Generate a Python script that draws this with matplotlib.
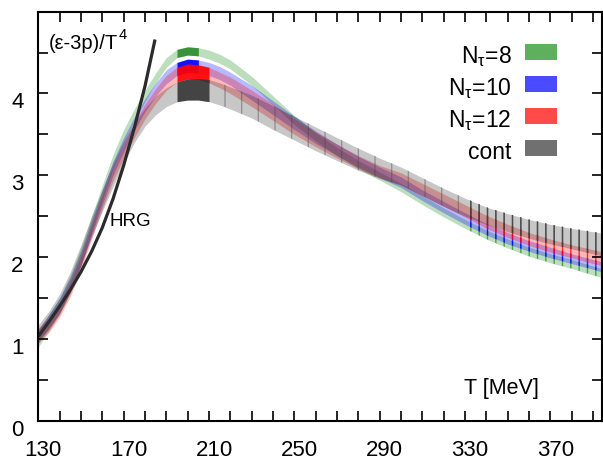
import numpy as np
import matplotlib
matplotlib.use('Agg')
import matplotlib.pyplot as plt
from matplotlib.patches import Rectangle
from matplotlib.transforms import ScaledTranslation

plt.rcParams['font.family'] = ['Liberation Sans', 'DejaVu Sans']
plt.rcParams['mathtext.fontset'] = 'custom'
plt.rcParams['mathtext.rm'] = 'Liberation Sans'
plt.rcParams['mathtext.it'] = 'Liberation Sans'
plt.rcParams['mathtext.bf'] = 'Liberation Sans:bold'
plt.rcParams['hatch.linewidth'] = 1.0

# temperature grid of the bands [MeV]
T = [130, 135, 140, 145, 150, 155, 160, 165, 170, 175, 180, 185, 190, 195, 200, 205, 210, 215, 220,
     230, 240, 250, 260, 270, 280, 290, 300, 310, 320, 330, 340, 350, 360, 370, 380, 390, 395]

# (e-3p)/T^4 bands, lower / upper edges
nt8_lo = [0.90, 1.10, 1.30, 1.56, 1.90, 2.30, 2.70, 3.08, 3.40, 3.66, 3.90, 4.13, 4.32, 4.44, 4.47,
          4.46, 4.42, 4.37, 4.30, 4.10, 3.86, 3.62, 3.42, 3.24, 3.08, 2.94, 2.80, 2.64, 2.49,
          2.35, 2.22, 2.11, 2.01, 1.93, 1.86, 1.78, 1.74]
nt8_hi = [1.10, 1.30, 1.50, 1.78, 2.11, 2.50, 2.88, 3.25, 3.56, 3.81, 4.04, 4.25, 4.44, 4.54, 4.57,
          4.56, 4.53, 4.48, 4.41, 4.21, 3.97, 3.73, 3.52, 3.34, 3.18, 3.04, 2.90, 2.75, 2.60,
          2.46, 2.33, 2.22, 2.12, 2.04, 1.97, 1.89, 1.85]

nt10_lo = [0.95, 1.13, 1.32, 1.57, 1.89, 2.27, 2.64, 3.00, 3.29, 3.55, 3.78, 3.97, 4.12, 4.22, 4.26,
           4.25, 4.22, 4.17, 4.10, 3.92, 3.74, 3.56, 3.39, 3.24, 3.10, 2.97, 2.85, 2.69, 2.54,
           2.40, 2.27, 2.16, 2.07, 1.99, 1.92, 1.85, 1.81]
nt10_hi = [1.12, 1.30, 1.50, 1.75, 2.07, 2.45, 2.82, 3.17, 3.46, 3.71, 3.94, 4.13, 4.29, 4.38, 4.42,
           4.41, 4.38, 4.33, 4.26, 4.10, 3.91, 3.72, 3.54, 3.38, 3.23, 3.10, 2.98, 2.82, 2.68,
           2.54, 2.41, 2.30, 2.20, 2.12, 2.04, 1.97, 1.94]

nt12_lo = [0.95, 1.08, 1.27, 1.52, 1.84, 2.22, 2.59, 2.93, 3.21, 3.46, 3.69, 3.88, 4.04, 4.14, 4.18,
           4.17, 4.13, 4.07, 4.00, 3.84, 3.67, 3.50, 3.35, 3.21, 3.08, 2.97, 2.88, 2.75, 2.62,
           2.49, 2.35, 2.24, 2.14, 2.06, 1.99, 1.92, 1.89]
nt12_hi = [1.13, 1.26, 1.45, 1.70, 2.02, 2.40, 2.77, 3.11, 3.39, 3.64, 3.87, 4.06, 4.22, 4.32, 4.36,
           4.35, 4.32, 4.26, 4.20, 4.04, 3.87, 3.69, 3.53, 3.38, 3.24, 3.12, 3.03, 2.90, 2.77,
           2.64, 2.51, 2.40, 2.30, 2.22, 2.15, 2.09, 2.06]

cont_lo = [0.98, 1.12, 1.31, 1.57, 1.90, 2.25, 2.56, 2.86, 3.15, 3.40, 3.60, 3.74, 3.84, 3.90, 3.92,
           3.92, 3.90, 3.86, 3.81, 3.70, 3.56, 3.43, 3.30, 3.18, 3.06, 2.96, 2.88, 2.75, 2.62,
           2.50, 2.40, 2.31, 2.23, 2.16, 2.10, 2.04, 2.01]
cont_hi = [1.17, 1.34, 1.55, 1.82, 2.15, 2.50, 2.83, 3.15, 3.42, 3.64, 3.82, 3.97, 4.07, 4.14, 4.18,
           4.18, 4.17, 4.13, 4.08, 3.98, 3.85, 3.72, 3.59, 3.46, 3.33, 3.21, 3.10, 2.97, 2.84,
           2.72, 2.61, 2.53, 2.46, 2.40, 2.35, 2.31, 2.29]

# hadron resonance gas curve
T_hrg = [130, 135, 140, 145, 150, 155, 160, 165, 170, 175, 180, 184.7]
hrg = [1.03, 1.21, 1.40, 1.60, 1.82, 2.07, 2.36, 2.71, 3.12, 3.58, 4.09, 4.66]

labels = [r'N$_\tau$=8', r'N$_\tau$=10', r'N$_\tau$=12', 'cont']
xticks = [130, 170, 210, 250, 290, 330, 370]
yticks = [0, 1, 2, 3, 4]

T = np.array(T)
series = [
    (nt8_lo, nt8_hi, (0.0, 0.5, 0.0), '#2a8c2a', 0.26, (195, 205)),
    (nt10_lo, nt10_hi, (0.0, 0.0, 1.0), '#0000ff', 0.28, (195, 205)),
    (nt12_lo, nt12_hi, (1.0, 0.0, 0.0), '#ff0000', 0.28, (195, 210)),
    (cont_lo, cont_hi, (0.0, 0.0, 0.0), '#363636', 0.22, (195, 210)),
]
legend_alpha = [0.63, 0.71, 0.71, 0.56]

fig = plt.figure(figsize=(6.03, 4.60), dpi=100)
ax = fig.add_axes([0.0635, 0.0833, 0.9343, 0.8891])

for lo, hi, c, dark, a, (t0, t1) in series:
    ax.fill_between(T, lo, hi, color=c, alpha=a, linewidth=0)
    peak = (T >= t0) & (T <= t1)
    ax.fill_between(T, lo, hi, where=peak, color=dark, alpha=0.9, linewidth=0)
    hot = T >= 330
    ax.fill_between(T, lo, hi, where=hot, facecolor='none', edgecolor=dark,
                    hatch='||', linewidth=0, alpha=0.8)

# scattered darker error bars along the continuum band
lo, hi = np.array(cont_lo), np.array(cont_hi)
mid = (T >= 210) & (T <= 330)
ax.fill_between(T, lo, hi, where=mid, facecolor='none', edgecolor='#444444',
                hatch='|', linewidth=0, alpha=0.4)
ax.fill_between(T, lo, hi, where=T >= 330, facecolor='none', edgecolor='#444444',
                hatch='||', linewidth=0, alpha=0.6)

ax.plot(T_hrg, hrg, color='#2b2b2b', lw=2.3, solid_capstyle='butt')

ax.set_xlim(130, 394)
ax.set_ylim(0, 5)
ax.set_xticks(xticks)
ax.set_xticks(np.arange(130, 395, 10), minor=True)
ax.set_yticks(yticks)
ax.set_yticks(np.arange(0, 5.01, 0.5), minor=True)
ax.tick_params(which='both', direction='in', length=7.2, width=1.2,
               top=True, right=True, labelsize=16)
ax.tick_params(axis='x', pad=13)
ax.tick_params(axis='y', pad=10.5)
for s in ax.spines.values():
    s.set_linewidth(1.5)

for lab in ax.get_xticklabels():
    lab.set_transform(lab.get_transform() + ScaledTranslation(0.05, 0, fig.dpi_scale_trans))
for lab in ax.get_yticklabels():
    lab.set_transform(lab.get_transform() + ScaledTranslation(0, -0.06, fig.dpi_scale_trans))

ylab = ax.text(135.0, 4.62, '(ε-3p)/T', fontsize=14.5, va='center')
ax.annotate('4', xy=(1.0, 0.6), xycoords=ylab, fontsize=10.5, va='bottom', ha='left')
ax.text(163.3, 2.445, 'HRG', fontsize=13.5, va='center')
ax.text(347, 0.41, 'T [MeV]', fontsize=15.5, ha='center', va='center')

# legend: label on the left, colour box on the right
row_y = [0.9015, 0.824, 0.745, 0.667]
for (lo, hi, c, dark, a, _), la, lab, y in zip(series, legend_alpha, labels, row_y):
    ax.add_patch(Rectangle((0.864, y - 0.0195), 0.0563, 0.039, transform=ax.transAxes,
                           facecolor=c, alpha=la, linewidth=0))
    ax.text(0.840, y - 0.025, lab, transform=ax.transAxes, fontsize=16.5,
            ha='right', va='baseline')

fig.savefig('out.png', dpi=100)
